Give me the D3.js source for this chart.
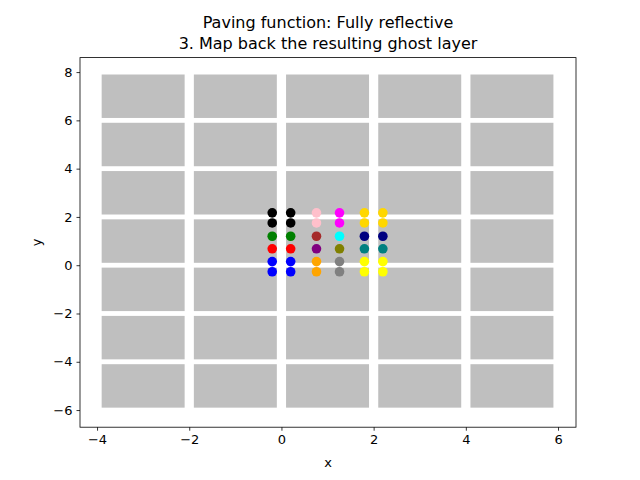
<html>
<head>
<meta charset="utf-8">
<style>
body { margin: 0; background: #fff; }
text { font-family: "DejaVu Sans", sans-serif; }
</style>
</head>
<body>
<script src="https://cdn.jsdelivr.net/npm/d3@7"></script>
<div id="target"></div>
<script>
// tiles: lower-left corners, each 1.8 x 1.8
var tileX = [-3.9, -1.9, 0.1, 2.1, 4.1];
var tileY = [-5.9, -3.9, -1.9, 0.1, 2.1, 4.1, 6.1];
var tileSize = 1.8;

// points, column by column
var colX = [-0.2, 0.2, 0.76, 1.26, 1.8, 2.2];
var rowY = [2.17, 1.75, 1.2, 0.68, 0.15, -0.27];
var colColors = [
  ["black", "black", "green", "red", "blue", "blue"],
  ["black", "black", "green", "red", "blue", "blue"],
  ["pink", "pink", "brown", "purple", "orange", "orange"],
  ["magenta", "magenta", "cyan", "olive", "gray", "gray"],
  ["gold", "gold", "navy", "teal", "yellow", "yellow"],
  ["gold", "gold", "navy", "teal", "yellow", "yellow"]
];

var xTicks = [-4, -2, 0, 2, 4, 6];
var yTicks = [-6, -4, -2, 0, 2, 4, 6, 8];

var W = 640, H = 480;
var m = { left: 80, right: 576, top: 57.6, bottom: 427.2 };

var svg = d3.select("#target").append("svg").attr("width", W).attr("height", H);
var x = d3.scaleLinear().domain([-4.37, 6.39]).range([m.left, m.right]);
var y = d3.scaleLinear().domain([-6.71, 8.6]).range([m.bottom, m.top]);

var g = svg.append("g");
tileX.forEach(function(tx) {
  tileY.forEach(function(ty) {
    g.append("rect")
      .attr("x", x(tx)).attr("y", y(ty + tileSize))
      .attr("width", x(tx + tileSize) - x(tx))
      .attr("height", y(ty) - y(ty + tileSize))
      .attr("fill", "#bfbfbf");
  });
});

colX.forEach(function(cx, i) {
  rowY.forEach(function(ry, j) {
    g.append("circle").attr("cx", x(cx)).attr("cy", y(ry)).attr("r", 4.8)
      .attr("fill", colColors[i][j]);
  });
});

svg.append("rect").attr("x", m.left).attr("y", m.top)
  .attr("width", m.right - m.left).attr("height", m.bottom - m.top)
  .attr("fill", "none").attr("stroke", "black").attr("stroke-width", 0.8);

var xa = svg.append("g").attr("transform", "translate(0," + m.bottom + ")")
  .call(d3.axisBottom(x).tickValues(xTicks).tickSize(3.5).tickPadding(4));
var ya = svg.append("g").attr("transform", "translate(" + m.left + ",0)")
  .call(d3.axisLeft(y).tickValues(yTicks).tickSize(3.5).tickPadding(4));
[xa, ya].forEach(function(a) {
  a.select(".domain").remove();
  a.selectAll("text").attr("font-size", 13).attr("font-family", "DejaVu Sans").attr("fill", "black");
  a.selectAll("line").attr("stroke", "black").attr("stroke-width", 0.8);
});
xa.selectAll("text").text(function(d) { return d < 0 ? "\u2212" + Math.abs(d) : d; });
ya.selectAll("text").text(function(d) { return d < 0 ? "\u2212" + Math.abs(d) : d; });

svg.append("text").attr("x", (m.left + m.right) / 2).attr("y", 467)
  .attr("text-anchor", "middle").attr("font-size", 13).text("x");
svg.append("text").attr("transform", "translate(41," + (m.top + m.bottom) / 2 + ") rotate(-90)")
  .attr("text-anchor", "middle").attr("font-size", 13).text("y");

svg.append("text").attr("x", (m.left + m.right) / 2).attr("y", 28)
  .attr("text-anchor", "middle").attr("font-size", 16).text("Paving function: Fully reflective");
svg.append("text").attr("x", (m.left + m.right) / 2).attr("y", 49)
  .attr("text-anchor", "middle").attr("font-size", 16).text("3. Map back the resulting ghost layer");
</script>
</body>
</html>
